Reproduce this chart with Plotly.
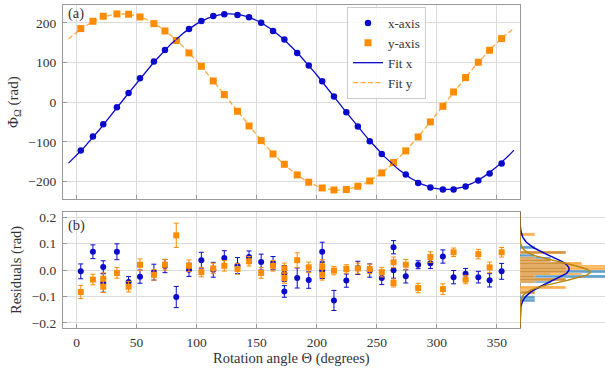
import numpy as np
import plotly.graph_objects as go

# ---------------- data ----------------
angles = [3.5, 13.6, 22.2, 33.6, 43.3, 52.8, 64.4, 73.6, 83.0, 93.6, 103.9, 113.8,
          123.0, 134.0, 143.6, 153.7, 163.6, 173.0, 183.7, 193.3, 204.5, 214.3, 224.6, 234.2,
          244.1, 254.1, 263.9, 274.1, 284.4, 294.6, 305.0, 313.9, 323.9, 334.5, 343.9, 353.9]

phi_x = [-121.7, -86.5, -55.4, -12.6, 23.4, 60.4, 102.5, 131.8, 156.0, 184.6, 204.8, 217.0,
         222.0, 220.0, 214.0, 200.0, 179.6, 158.0, 124.2, 92.4, 52.9, 14.3, -25.2, -61.2,
         -98.2, -130.2, -152.0, -182.1, -203.3, -214.9, -219.9, -219.9, -212.3, -197.2, -179.6, -154.4]

phi_y = [185.6, 204.0, 216.6, 222.4, 221.7, 214.9, 198.2, 179.6, 155.4, 124.2, 90.7, 53.7,
         19.3, -22.7, -59.7, -96.5, -130.2, -156.2, -183.0, -201.5, -215.9, -220.9, -219.9, -211.6,
         -198.2, -178.0, -152.0, -122.6, -87.4, -49.6, -10.1, 25.9, 62.2, 100.8, 131.0, 160.4]

res_angles = [3.5, 13.6, 22.2, 22.2, 33.6, 43.3, 52.8, 64.4, 73.6, 83.0, 93.6, 103.9, 113.8,
              123.0, 134.0, 143.6, 153.7, 163.6, 173.0, 173.0, 183.7, 193.3, 204.5, 204.5, 214.3,
              224.6, 234.2, 244.1, 254.1, 263.9, 263.9, 274.1, 284.4, 294.6, 305.0, 313.9, 323.9,
              334.5, 343.9, 353.9]

res_x = [-0.005, 0.069, 0.011, -0.049, 0.069, -0.045, -0.025, -0.008, 0.015, -0.102, 0.001, 0.037,
         0.001, 0.045, 0.017, 0.049, 0.030, 0.026, -0.013, -0.081, -0.030, -0.038, 0.069, -0.002,
         -0.115, -0.040, 0.008, -0.002, -0.030, 0.086, -0.001, -0.024, 0.020, 0.026, 0.051, -0.027,
         -0.014, -0.027, -0.039, -0.005]

res_y = [-0.083, -0.036, -0.033, -0.063, -0.011, -0.063, 0.020, -0.018, 0.020, 0.131, 0.016, -0.008,
         0.006, 0.016, 0.004, 0.033, -0.011, 0.016, 0.006, -0.030, 0.037, 0.010, 0.014, -0.018,
         -0.002, 0.004, 0.006, 0.004, -0.008, 0.029, -0.049, 0.020, -0.068, 0.049, -0.072, 0.067,
         -0.036, 0.060, 0.010, 0.067]

err_x = [0.028, 0.026, 0.024, 0.035, 0.030, 0.020, 0.025, 0.030, 0.025, 0.040, 0.025, 0.030,
         0.028, 0.028, 0.030, 0.023, 0.030, 0.025, 0.030, 0.022, 0.038, 0.031, 0.036, 0.030,
         0.038, 0.025, 0.025, 0.025, 0.025, 0.025, 0.030, 0.025, 0.015, 0.020, 0.025, 0.025,
         0.020, 0.022, 0.025, 0.030]

err_y = [0.025, 0.020, 0.022, 0.022, 0.020, 0.020, 0.022, 0.020, 0.020, 0.046, 0.022, 0.018,
         0.020, 0.020, 0.020, 0.018, 0.020, 0.020, 0.020, 0.020, 0.028, 0.020, 0.025, 0.020,
         0.016, 0.016, 0.020, 0.018, 0.018, 0.020, 0.015, 0.020, 0.018, 0.020, 0.020, 0.016,
         0.016, 0.018, 0.020, 0.018]

# Gaussian fits shown next to the residuals (mean, sigma)
gauss_x = (0.004, 0.050)
gauss_y = (-0.008, 0.035)

x_ticks = [0, 50, 100, 150, 200, 250, 300, 350]
phi_ticks = [-200, -100, 0, 100, 200]
res_ticks = [-0.2, -0.1, 0.0, 0.1, 0.2]

# ---------------- sinusoidal least-squares fits ----------------
th = np.radians(np.array(angles))
M = np.column_stack([np.sin(th), np.cos(th), np.ones_like(th)])
cx, *_ = np.linalg.lstsq(M, np.array(phi_x), rcond=None)
cy, *_ = np.linalg.lstsq(M, np.array(phi_y), rcond=None)
tfit = np.linspace(-6.7, 364.2, 400)
tr = np.radians(tfit)
Mf = np.column_stack([np.sin(tr), np.cos(tr), np.ones_like(tr)])
fit_x = Mf @ cx
fit_y = Mf @ cy

ygr = np.linspace(-0.219, 0.219, 400)
def gauss(mu, s):
    return np.exp(-0.5 * ((ygr - mu) / s) ** 2) / (s * np.sqrt(2 * np.pi))

BLUE = "#0a0acd"
ORANGE = "#ff8c00"
FONT = "Liberation Serif, Times New Roman, serif"
TXT = "#333333"

fig = go.Figure()

# top panel
fig.add_trace(go.Scatter(x=angles, y=phi_x, mode="markers", name="x-axis",
                         marker=dict(color=BLUE, size=6.5, symbol="circle"),
                         xaxis="x", yaxis="y"))
fig.add_trace(go.Scatter(x=angles, y=phi_y, mode="markers", name="y-axis",
                         marker=dict(color=ORANGE, size=7, symbol="square"),
                         xaxis="x", yaxis="y"))
fig.add_trace(go.Scatter(x=tfit, y=fit_x, mode="lines", name="Fit x",
                         line=dict(color=BLUE, width=1.3), xaxis="x", yaxis="y"))
fig.add_trace(go.Scatter(x=tfit, y=fit_y, mode="lines", name="Fit y",
                         line=dict(color="rgba(255,140,0,0.75)", width=1.3, dash="5px,2.5px"),
                         xaxis="x", yaxis="y"))

# residuals
fig.add_trace(go.Scatter(x=res_angles, y=res_x, mode="markers", showlegend=False,
                         marker=dict(color=BLUE, size=6, symbol="circle"),
                         error_y=dict(type="data", array=err_x, color=BLUE, thickness=1, width=2.5),
                         xaxis="x2", yaxis="y2"))
fig.add_trace(go.Scatter(x=res_angles, y=res_y, mode="markers", showlegend=False,
                         marker=dict(color=ORANGE, size=6, symbol="square"),
                         error_y=dict(type="data", array=err_y, color=ORANGE, thickness=1, width=2.5),
                         xaxis="x2", yaxis="y2"))

# histograms of residuals
fig.add_trace(go.Histogram(y=res_x, histnorm="probability density", orientation="h",
                           ybins=dict(start=-0.12, end=0.14, size=0.01), showlegend=False,
                           marker=dict(color="rgba(31,119,180,0.7)", line=dict(color="white", width=0.3)),
                           xaxis="x3", yaxis="y2"))
fig.add_trace(go.Histogram(y=res_y, histnorm="probability density", orientation="h",
                           ybins=dict(start=-0.12, end=0.14, size=0.01), showlegend=False,
                           marker=dict(color="rgba(255,140,0,0.7)", line=dict(color="white", width=0.3)),
                           xaxis="x3", yaxis="y2"))
fig.add_trace(go.Scatter(x=gauss(*gauss_x), y=ygr, mode="lines", showlegend=False,
                         line=dict(color="#0000cd", width=1.5), xaxis="x3", yaxis="y2"))
fig.add_trace(go.Scatter(x=gauss(*gauss_y), y=ygr, mode="lines", showlegend=False,
                         line=dict(color="#b8860b", width=1.5), xaxis="x3", yaxis="y2"))

XR = [-11.3, 369.2]
XD = [0, 457 / 542]
axis_common = dict(showline=True, mirror=True, linecolor="#9a9a9a", linewidth=1.3,
                   showgrid=True, gridcolor="#dcdcdc", gridwidth=1, zeroline=False,
                   ticks="inside", ticklen=3.5, tickcolor="#9a9a9a", automargin=False,
                   tickfont=dict(family=FONT, size=13.5, color=TXT))

fig.update_layout(
    width=605, height=372,
    margin=dict(l=63, r=0, t=5, b=44, autoexpand=False),
    paper_bgcolor="white", plot_bgcolor="white",
    barmode="overlay", bargap=0,
    font=dict(family=FONT, color=TXT),
    xaxis=dict(domain=XD, anchor="y", range=XR, tickvals=x_ticks, showticklabels=False,
               **axis_common),
    yaxis=dict(domain=[0.399, 1], anchor="x", range=[-244, 245], tickvals=phi_ticks,
               ticklabelstandoff=3, **axis_common),
    xaxis2=dict(domain=XD, anchor="y2", range=XR, tickvals=x_ticks, ticklabelstandoff=2,
                **axis_common),
    yaxis2=dict(domain=[0, 0.359], anchor="x2", range=[-0.219, 0.219], tickvals=res_ticks,
                tickformat=".1f", ticklabelstandoff=3, **axis_common),
    xaxis3=dict(domain=[457 / 542, 1], anchor="y2", range=[0, 13.8], visible=False,
                showgrid=False, zeroline=False),
    legend=dict(x=0.524, y=0.994, xanchor="left", yanchor="top",
                bgcolor="rgba(255,255,255,0.85)", bordercolor="#cccccc", borderwidth=1,
                font=dict(family=FONT, size=13, color=TXT), tracegroupgap=0),
    annotations=[
        dict(text="(a)", xref="x domain", yref="y domain", x=0.006, y=0.955,
             xanchor="left", yanchor="middle", showarrow=False,
             font=dict(family=FONT, size=14.5, color=TXT)),
        dict(text="(b)", xref="x2 domain", yref="y2 domain", x=0.006, y=0.885,
             xanchor="left", yanchor="middle", showarrow=False,
             font=dict(family=FONT, size=14.5, color=TXT)),
        dict(text="Φ<sub>Ω</sub> (rad)", xref="paper", yref="paper", x=(14 - 63) / 542,
             y=(328 - 102) / 323, xanchor="center", yanchor="middle", textangle=-90,
             showarrow=False, font=dict(family=FONT, size=15, color=TXT)),
        dict(text="Residuals (rad)", xref="paper", yref="paper", x=(16 - 63) / 542,
             y=(328 - 270) / 323, xanchor="center", yanchor="middle", textangle=-90,
             showarrow=False, font=dict(family=FONT, size=14.5, color=TXT)),
        dict(text="Rotation angle Θ (degrees)", xref="paper", yref="paper",
             x=(291.5 - 63) / 542, y=(328 - 358) / 323, xanchor="center", yanchor="middle",
             showarrow=False, font=dict(family=FONT, size=14.5, color=TXT)),
    ],
)

fig.write_html("out.html", config={"displayModeBar": False},
               post_script="document.body.style.margin='0';document.body.style.padding='0';")
